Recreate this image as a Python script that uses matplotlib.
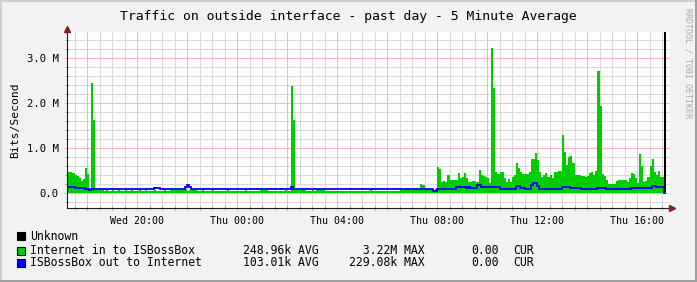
import matplotlib
matplotlib.use("Agg")
import matplotlib.pyplot as plt
import numpy as np
from matplotlib.patches import Rectangle

W, H = 697, 282
DPI = 100

# 5-minute samples, first one starts Wed 17:10 (hours counted from Wed 00:00)
START_HOUR = 17 + 10 / 60
STEP_HOURS = 5 / 60

# Internet in to ISBossBox, kbit/s (one row per hour, row label = row start)
in_kbps = [
    460, 470, 460, 440, 400, 370, 330, 270, 310, 560, 430, 65,        # 17:10
    2440, 1620, 70, 60, 60, 60, 55, 60, 55, 55, 60, 55,               # 18:10
    55, 60, 55, 55, 60, 55, 55, 60, 55, 55, 55, 60,                   # 19:10
    55, 55, 60, 55, 55, 55, 60, 55, 55, 55, 55, 60,                   # 20:10
    55, 55, 60, 60, 60, 60, 70, 70, 80, 85, 55, 60,                   # 21:10
    85, 80, 60, 55, 55, 60, 55, 55, 55, 55, 60, 55,                   # 22:10
    55, 55, 55, 55, 55, 60, 55, 55, 55, 55, 55, 55,                   # 23:10
    55, 55, 60, 55, 55, 55, 55, 55, 55, 70, 70, 70,                   # 00:10
    70, 55, 55, 55, 55, 55, 55, 55, 55, 60, 55, 55,                   # 01:10
    2380, 1620, 70, 70, 70, 70, 60, 55, 55, 55, 60, 55,               # 02:10
    90, 90, 90, 60, 55, 55, 55, 55, 55, 55, 55, 55,                   # 03:10
    55, 55, 55, 55, 55, 55, 55, 55, 55, 55, 55, 55,                   # 04:10
    55, 55, 60, 55, 55, 55, 55, 55, 55, 55, 55, 55,                   # 05:10
    55, 55, 55, 55, 60, 60, 60, 110, 100, 60, 60, 60,                 # 06:10
    60, 60, 200, 180, 90, 80, 70, 90, 60, 80, 570, 530,               # 07:10
    250, 260, 240, 400, 290, 280, 300, 290, 450, 330, 350, 450,       # 08:10
    330, 250, 240, 260, 250, 240, 510, 400, 380, 350, 340, 230,       # 09:10
    3220, 2330, 470, 420, 470, 470, 330, 250, 310, 250, 350, 400,     # 10:10
    660, 550, 470, 430, 420, 420, 470, 750, 750, 880, 730, 470,       # 11:10
    360, 400, 450, 360, 400, 330, 470, 470, 490, 490, 1290, 920,      # 12:10
    620, 800, 820, 670, 400, 400, 400, 380, 380, 360, 380, 450,       # 13:10
    470, 400, 490, 2710, 1930, 420, 380, 290, 210, 210, 210, 210,     # 14:10
    260, 290, 290, 290, 280, 250, 330, 450, 420, 330, 220, 870,       # 15:10
    600, 250, 270, 360, 600, 750, 470, 400, 500, 360, 360, 0,         # 16:10
]

# ISBossBox out to Internet, kbit/s
out_kbps = [
    130, 130, 125, 125, 120, 120, 115, 110, 110, 100, 90, 70,         # 17:10
    100, 100, 85, 85, 85, 85, 85, 85, 85, 85, 95, 95,                 # 18:10
    95, 95, 95, 95, 95, 95, 95, 95, 95, 95, 90, 90,                   # 19:10
    90, 90, 90, 90, 90, 90, 120, 120, 120, 90, 90, 90,                # 20:10
    90, 90, 90, 100, 90, 90, 90, 90, 90, 130, 180, 130,               # 21:10
    85, 85, 85, 85, 85, 85, 85, 85, 85, 85, 85, 85,                   # 22:10
    85, 85, 85, 85, 85, 85, 85, 85, 85, 85, 85, 85,                   # 23:10
    85, 85, 85, 85, 85, 85, 85, 85, 85, 85, 85, 85,                   # 00:10
    85, 85, 85, 85, 85, 85, 85, 85, 85, 85, 85, 85,                   # 01:10
    140, 90, 85, 85, 85, 85, 85, 85, 85, 85, 85, 85,                  # 02:10
    85, 85, 85, 85, 85, 85, 85, 85, 85, 85, 85, 85,                   # 03:10
    85, 85, 85, 85, 85, 85, 85, 85, 85, 85, 85, 85,                   # 04:10
    85, 85, 85, 85, 85, 85, 85, 85, 85, 85, 85, 85,                   # 05:10
    85, 85, 85, 85, 85, 85, 85, 85, 85, 85, 85, 85,                   # 06:10
    85, 85, 100, 100, 85, 85, 85, 85, 45, 45, 100, 85,                # 07:10
    80, 85, 85, 100, 100, 100, 100, 126, 126, 126, 126, 126,          # 08:10
    110, 140, 120, 110, 110, 180, 180, 140, 130, 130, 130, 140,       # 09:10
    140, 140, 140, 140, 100, 100, 100, 100, 100, 100, 100, 100,       # 10:10
    150, 150, 115, 110, 100, 100, 100, 170, 229, 229, 150, 100,       # 11:10
    100, 100, 100, 100, 100, 100, 100, 100, 100, 100, 140, 140,       # 12:10
    140, 140, 120, 120, 120, 120, 110, 100, 100, 100, 100, 100,       # 13:10
    100, 90, 90, 120, 120, 120, 110, 90, 90, 90, 90, 90,              # 14:10
    90, 90, 90, 90, 90, 90, 90, 120, 120, 120, 120, 120,              # 15:10
    120, 120, 120, 120, 120, 160, 160, 130, 130, 140, 140, 0,         # 16:10
]

unknown_idx = [287]

tick_hours = [20, 24, 28, 32, 36, 40]
tick_labels = ["Wed 20:00", "Thu 00:00", "Thu 04:00", "Thu 08:00", "Thu 12:00", "Thu 16:00"]
ytick_vals = [0, 1, 2, 3]
ytick_labels = ["0.0", "1.0 M", "2.0 M", "3.0 M"]

legend_rows = [
    ("Unknown", "#000000", None),
    ("Internet in to ISBossBox", "#00CC00", ("248.96k AVG", "  3.22M MAX", "0.00", "CUR")),
    ("ISBossBox out to Internet", "#0000FF", ("103.01k AVG", "229.08k MAX", "0.00", "CUR")),
]

BACK = "#F2F2F2"
SHADE_A = "#CFCFCF"
SHADE_B = "#9E9E9E"
GRID = "#DADADA"
MGRID = "#F2BABA"
ARROW = "#801F1F"
AXIS = "#1F1F1F"
MONO = "DejaVu Sans Mono"

plt.rcParams["font.family"] = MONO

fig = plt.figure(figsize=(W / DPI, H / DPI), dpi=DPI, facecolor=BACK)


def px_x(x):
    return x / W


def px_y(y):
    return 1 - y / H


# plot area in pixel coordinates: x 67..670, y 32..208
ax = fig.add_axes([px_x(67), px_y(208), px_x(670) - px_x(67), px_y(32) - px_y(208)])
ax.set_facecolor("white")
XMIN, XMAX = 17.2, 41.32
YMIN, YMAX = -0.333, 3.578
ax.set_xlim(XMIN, XMAX)
ax.set_ylim(YMIN, YMAX)

# grid: minor every 30 min / 0.2 M, major every 2 h / 1 M
for h in np.arange(17.5, XMAX, 0.5):
    ax.axvline(h, color=GRID, lw=0.75, zorder=0)
for v in np.arange(-0.2, YMAX, 0.2):
    ax.axhline(v, color=GRID, lw=0.75, zorder=0)
for h in np.arange(18, XMAX, 2):
    ax.axvline(h, color=MGRID, lw=0.75, zorder=0.5)
for v in ytick_vals:
    ax.axhline(v, color=MGRID, lw=0.75, zorder=0.5)

n = len(in_kbps)
edges = START_HOUR + np.arange(n + 1) * STEP_HOURS
in_m = np.array(in_kbps) / 1000.0
out_m = np.array(out_kbps) / 1000.0

ax.stairs(in_m, edges, fill=True, baseline=0, color="#00CC00", lw=0, zorder=2)
ax.stairs(out_m, edges, baseline=None, color="#0000FF", lw=1.3, zorder=3)
for i in unknown_idx:
    ax.bar(edges[i], YMAX, width=STEP_HOURS, bottom=0.03, align="edge",
           color="#000000", lw=0, zorder=4)

for side in ("top", "right"):
    ax.spines[side].set_visible(False)
for side in ("left", "bottom"):
    ax.spines[side].set_color(AXIS)
    ax.spines[side].set_linewidth(0.8)

ax.set_xticks(tick_hours, tick_labels)
ax.set_xticks(np.arange(17.5, XMAX, 0.5), minor=True)
ax.set_yticks(ytick_vals, ytick_labels)
ax.set_yticks(np.arange(-0.2, YMAX, 0.2), minor=True)
ax.tick_params(axis="both", which="major", direction="inout", length=4, width=0.8,
               color=MGRID, labelsize=7.2, labelcolor="black")
ax.tick_params(axis="both", which="minor", direction="inout", length=3, width=0.7,
               color="#A0A0A0")
ax.tick_params(axis="x", which="major", pad=3.5)
ax.tick_params(axis="y", which="major", pad=4.0, labelsize=7.6)

# axis arrows
ax.plot([0], [1 + 3 / 176], marker="^", ms=4.5, color=ARROW, mec=ARROW,
        transform=ax.transAxes, clip_on=False, zorder=6)
ax.plot([1 + 2 / 603], [0], marker=">", ms=4.5, color=ARROW, mec=ARROW,
        transform=ax.transAxes, clip_on=False, zorder=6)

# titles
fig.text(px_x(348.5), px_y(16.5), "Traffic on outside interface - past day - 5 Minute Average",
         ha="center", va="center", fontsize=9.45, color="black")
fig.text(px_x(15.5), px_y(120), "Bits/Second", rotation=90, ha="center", va="center",
         fontsize=8.2, color="black")
fig.text(px_x(688), px_y(8), "RRDTOOL / TOBI OETIKER", rotation=270, ha="center", va="top",
         fontsize=6.0, color="#AAAAAA")

# legend
row_y = [236, 250.5, 263]
col_x = [243, 349, 471, 513]
for (label, colour, stats), y in zip(legend_rows, row_y):
    fig.patches.append(Rectangle((px_x(16.5), px_y(y + 4)), 8 / W, 8 / H,
                                 transform=fig.transFigure, facecolor=colour,
                                 edgecolor="black", lw=0.8))
    fig.text(px_x(30), px_y(y), label, ha="left", va="center", fontsize=8.3, color="black")
    if stats:
        for x, s in zip(col_x, stats):
            fig.text(px_x(x), px_y(y), s, ha="left", va="center", fontsize=8.3, color="black")

# 3d-ish frame around the image
fig.patches.append(Rectangle((0, px_y(2)), 1, 2 / H, transform=fig.transFigure,
                             facecolor=SHADE_A, lw=0))
fig.patches.append(Rectangle((0, 0), 2 / W, 1, transform=fig.transFigure,
                             facecolor=SHADE_A, lw=0))
fig.patches.append(Rectangle((0, 0), 1, 2 / H, transform=fig.transFigure,
                             facecolor=SHADE_B, lw=0))
fig.patches.append(Rectangle((1 - 2 / W, 0), 2 / W, 1, transform=fig.transFigure,
                             facecolor=SHADE_B, lw=0))

fig.savefig("out.png", dpi=DPI, facecolor=BACK)
